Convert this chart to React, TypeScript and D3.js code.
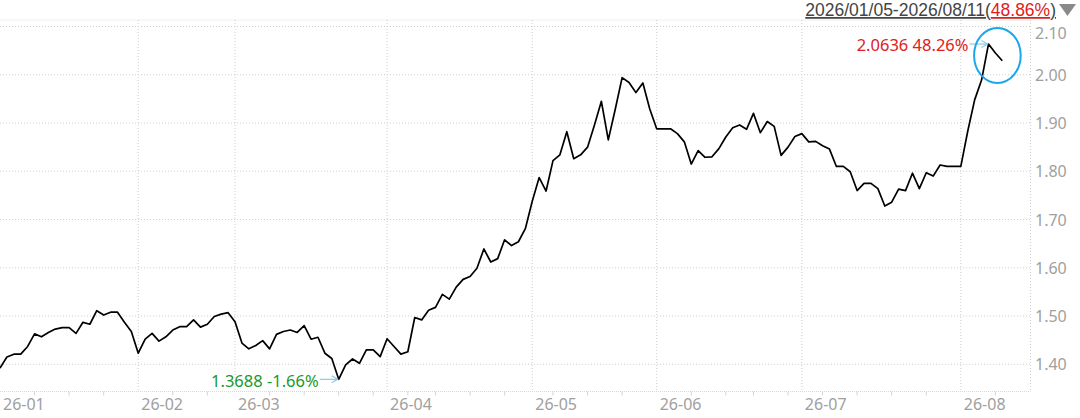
import React from 'react';
import * as d3 from 'd3';

// daily closes, trading days 2026-01-05 .. 2026-08-11
const values = [
  1.392, 1.415, 1.421, 1.421, 1.437, 1.463, 1.457, 1.466, 1.473, 1.476,
  1.476, 1.464, 1.487, 1.483, 1.511, 1.502, 1.508, 1.508, 1.487, 1.468,
  1.423, 1.452, 1.464, 1.448, 1.457, 1.471, 1.478, 1.478, 1.492, 1.477,
  1.483, 1.499, 1.504, 1.507, 1.488, 1.444, 1.432, 1.439, 1.449, 1.432,
  1.462, 1.468, 1.471, 1.466, 1.480, 1.452, 1.456, 1.423, 1.412, 1.3688,
  1.399, 1.411, 1.402, 1.430, 1.430, 1.416, 1.453, 1.437, 1.421, 1.426,
  1.497, 1.492, 1.512, 1.518, 1.545, 1.535, 1.560, 1.576, 1.582, 1.599,
  1.639, 1.612, 1.619, 1.658, 1.646, 1.654, 1.681, 1.738, 1.787, 1.759,
  1.822, 1.834, 1.882, 1.826, 1.834, 1.850, 1.896, 1.945, 1.865, 1.928,
  1.994, 1.984, 1.963, 1.983, 1.929, 1.888, 1.888, 1.888, 1.878, 1.861,
  1.815, 1.843, 1.829, 1.830, 1.847, 1.871, 1.890, 1.896, 1.887, 1.920,
  1.880, 1.903, 1.893, 1.833, 1.850, 1.872, 1.878, 1.861, 1.862, 1.853,
  1.846, 1.810, 1.810, 1.799, 1.760, 1.775, 1.775, 1.764, 1.728, 1.736,
  1.763, 1.760, 1.796, 1.764, 1.797, 1.790, 1.813, 1.810, 1.810, 1.810,
  1.883, 1.948, 1.989, 2.0636, 2.045, 2.029,
];
const baseValue = 1.3919; // close before the range

const monthLabels = ['26-01', '26-02', '26-03', '26-04', '26-05', '26-06', '26-07', '26-08'];
const monthStarts = [0, 20, 34, 56, 77, 95, 116, 139];
const weekStarts = [5, 10, 15, 25, 30, 39, 44, 49, 54, 59, 63, 68, 73, 80, 85, 90, 100, 105, 109, 114, 119, 124, 129, 134, 144];
const yTicks = [1.4, 1.5, 1.6, 1.7, 1.8, 1.9, 2.0, 2.1];

const rangeText = '2026/01/05-2026/08/11';
const rangePct = '48.86%';

const W = 1080;
const H = 418;
const plotRight = 1030.5;
const plotTop = 20;
const plotBottom = 391.5;
const font = '"Noto Sans", "DejaVu Sans", sans-serif';

const App: React.FC = () => {
  const x = d3.scaleLinear().domain([0, values.length - 1]).range([0, 1002.3]);
  const y = d3.scaleLinear().domain([1.4, 2.1]).range([364.3, 26.5]);

  const line = d3.line<number>()
    .x((_, i) => x(i))
    .y(d => y(d));

  const maxIdx = d3.maxIndex(values);
  const minIdx = d3.minIndex(values);
  const pct = (v: number) => ((v / baseValue - 1) * 100).toFixed(2) + '%';

  const arrow = (px: number, py: number) => (
    <g stroke="#8ec9e2" strokeWidth={1.2} fill="none">
      <line x1={px - 19} y1={py} x2={px - 1} y2={py} />
      <polyline points={`${px - 7},${py - 3.5} ${px - 1},${py} ${px - 7},${py + 3.5}`} />
    </g>
  );

  return (
    <svg
      width={W}
      height={H}
      style={{ position: 'absolute', left: 0, top: 0, background: '#fff' }}
      fontFamily={font}
    >
      {/* plot frame */}
      <line x1={0} x2={plotRight} y1={plotTop} y2={plotTop} stroke="#eeeeee" />
      <line x1={0} x2={plotRight} y1={plotBottom} y2={plotBottom} stroke="#d8d8d8" strokeDasharray="1,1" />
      <line x1={plotRight} x2={plotRight} y1={plotTop} y2={plotBottom} stroke="#d0d0d0" strokeDasharray="1,2" />

      {/* horizontal grid */}
      {yTicks.map(t => (
        <line key={t} x1={0} x2={plotRight} y1={y(t)} y2={y(t)} stroke="#cfcfcf" strokeDasharray="1,2" />
      ))}

      {/* month grid */}
      {monthStarts.slice(1).map(m => (
        <line key={m} x1={x(m)} x2={x(m)} y1={plotTop} y2={plotBottom} stroke="#cfcfcf" strokeDasharray="1,2" />
      ))}

      {/* week ticks */}
      {weekStarts.map(w => (
        <line key={w} x1={x(w)} x2={x(w)} y1={plotBottom} y2={plotBottom + 4} stroke="#d5d5d5" />
      ))}

      {/* y labels */}
      {yTicks.map(t => (
        <text
          key={t}
          x={1035}
          y={Math.max(y(t), 32.5)}
          dominantBaseline="central"
          fontSize={16}
          fill="#a0a0a0"
        >
          {t.toFixed(2)}
        </text>
      ))}

      {/* month labels */}
      {monthStarts.map((m, i) => (
        <text key={m} x={x(m) + 3} y={410} fontSize={16} fill="#a0a0a0">
          {monthLabels[i]}
        </text>
      ))}

      {/* price line */}
      <path d={line(values) || ''} fill="none" stroke="#000" strokeWidth={1.7} strokeLinejoin="round" />

      {/* max annotation */}
      {arrow(x(maxIdx), y(values[maxIdx]))}
      <text
        x={x(maxIdx) - 20}
        y={y(values[maxIdx])}
        textAnchor="end"
        dominantBaseline="central"
        fontSize={16.5}
        fill="#e0201c"
      >
        {values[maxIdx].toFixed(4)} {pct(values[maxIdx])}
      </text>

      {/* min annotation */}
      {arrow(x(minIdx), y(values[minIdx]))}
      <text
        x={x(minIdx) - 20}
        y={y(values[minIdx]) + 1}
        textAnchor="end"
        dominantBaseline="central"
        fontSize={16.5}
        fill="#1a9a2a"
      >
        {values[minIdx].toFixed(4)} {pct(values[minIdx])}
      </text>

      {/* highlight ellipse */}
      <ellipse
        cx={(x(maxIdx) + x(values.length - 1)) / 2 + 2}
        cy={(y(values[maxIdx]) + y(values[values.length - 1])) / 2 + 3}
        rx={23.3}
        ry={27.5}
        fill="none"
        stroke="#1aa6ea"
        strokeWidth={2}
      />

      {/* header */}
      <text
        x={1056}
        y={16}
        textAnchor="end"
        fontSize={17.5}
        fill="#444"
        fontFamily='"Liberation Sans", Arial, sans-serif'
      >
        <tspan style={{ textDecoration: 'underline' }}>{rangeText}(</tspan>
        <tspan fill="#e0201c" style={{ textDecoration: 'underline' }}>{rangePct}</tspan>
        <tspan style={{ textDecoration: 'underline' }}>)</tspan>
      </text>
      <path d="M1059,4 L1076,4 L1067.5,16 Z" fill="#8a8a8a" />
    </svg>
  );
};

export default App;
